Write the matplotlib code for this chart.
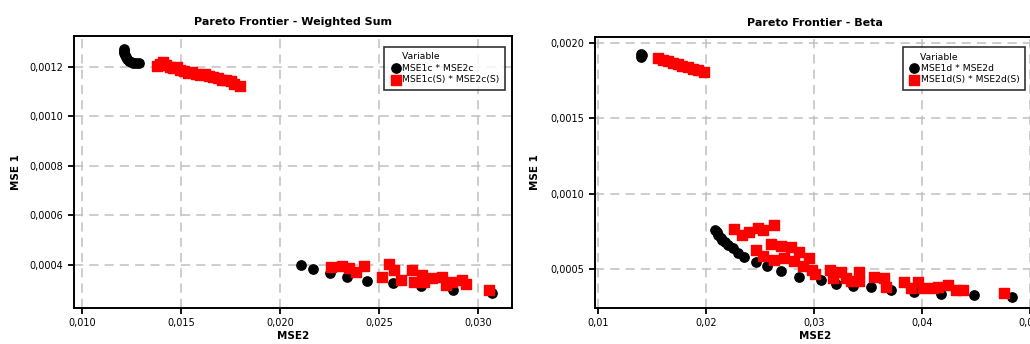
import matplotlib
matplotlib.use("Agg")
import matplotlib.pyplot as plt
from matplotlib.ticker import FuncFormatter, MultipleLocator

# Weighted sum data
ws_c_x = [0.01211, 0.01211, 0.01211, 0.01217, 0.01222, 0.01227, 0.01237, 0.01247, 0.01257, 0.01272, 0.01287,
          0.02108, 0.02168, 0.02254, 0.02339, 0.0244, 0.02571, 0.02712, 0.02873, 0.0307]
ws_c_y = [0.001273, 0.001265, 0.001257, 0.001248, 0.00124, 0.001232, 0.001224, 0.00122, 0.001216, 0.001216, 0.001216,
          0.0004, 0.000384, 0.000368, 0.000352, 0.000335, 0.000327, 0.000315, 0.000299, 0.000287]
ws_s_x = [0.01378, 0.01393, 0.01408, 0.01423, 0.01443, 0.01458, 0.01478, 0.01493, 0.01514, 0.01534, 0.01554,
          0.01574, 0.01594, 0.01619, 0.01639, 0.0166, 0.01685, 0.01705, 0.01725, 0.0175, 0.0177, 0.01796,
          0.02259, 0.02314, 0.02349, 0.02385, 0.02425, 0.02516, 0.02551, 0.02576, 0.02611, 0.02667,
          0.02677, 0.02717, 0.02727, 0.02767, 0.02818, 0.02838, 0.02868, 0.02918, 0.02939, 0.03054]
ws_s_y = [0.001204, 0.001212, 0.00122, 0.001208, 0.0012, 0.001196, 0.0012, 0.001188, 0.001184, 0.001176, 0.00118,
          0.001172, 0.001168, 0.001172, 0.001164, 0.00116, 0.001156, 0.001147, 0.001147, 0.001143, 0.001131, 0.001123,
          0.000392, 0.000396, 0.000388, 0.000372, 0.000396, 0.000352, 0.000404, 0.00038, 0.000339, 0.00038,
          0.000331, 0.000359, 0.000331, 0.000347, 0.000351, 0.000319, 0.000331, 0.000339, 0.000323, 0.000299]

# Beta data
b_d_x = [0.0140, 0.0141, 0.0140,
         0.02088, 0.02098, 0.02116, 0.02135, 0.02153, 0.02172, 0.022, 0.02247, 0.02293, 0.02349, 0.0246,
         0.02563, 0.02693, 0.0286, 0.03065, 0.03205, 0.03363, 0.0353, 0.03716, 0.0393, 0.04181, 0.04488, 0.04833]
b_d_y = [0.00193, 0.00192, 0.00191,
         0.000758, 0.000745, 0.000725, 0.000705, 0.000692, 0.000679, 0.000659, 0.000639, 0.000606, 0.000579, 0.000546,
         0.00052, 0.000486, 0.000446, 0.000426, 0.0004, 0.000386, 0.00038, 0.00036, 0.000347, 0.000333, 0.000327, 0.000313]
b_s_x = [0.01558, 0.01605, 0.0165, 0.01697, 0.01744, 0.0178, 0.01837, 0.01884, 0.0193, 0.01986,
         0.02256, 0.0233, 0.02395, 0.02479, 0.02526, 0.02628, 0.0246, 0.02526, 0.026, 0.02628, 0.02693, 0.02721,
         0.02786, 0.02814, 0.0286, 0.02898, 0.02953, 0.02981, 0.03009, 0.03149, 0.03177, 0.03251, 0.03298,
         0.03344, 0.03419, 0.03419, 0.03558, 0.03651, 0.0367, 0.03837, 0.03902, 0.03967, 0.04014, 0.04107,
         0.04153, 0.04247, 0.04321, 0.04386, 0.04758]
b_s_y = [0.0019, 0.00189, 0.00188, 0.00187, 0.00186, 0.00185, 0.00184, 0.00183, 0.00182, 0.00181,
         0.000765, 0.000725, 0.000745, 0.000772, 0.000758, 0.000791, 0.000625, 0.000586, 0.000665, 0.000559, 0.000652, 0.000572,
         0.000645, 0.000552, 0.000612, 0.000519, 0.000572, 0.000493, 0.000466, 0.000493, 0.00044, 0.00048, 0.00044,
         0.00042, 0.00048, 0.00042, 0.000446, 0.00044, 0.00038, 0.000413, 0.000373, 0.000413, 0.000373, 0.000373,
         0.00038, 0.000393, 0.00036, 0.00036, 0.00034]


def comma(dec):
    return FuncFormatter(lambda v, p: ("{:.%df}" % dec).format(v).replace(".", ","))


def style(ax, title, xdec, ydec, ylab_x, leg_anchor):
    ax.set_title(title, fontsize=8, fontweight="bold", pad=8)
    ax.set_xlabel("MSE2", fontsize=7.5, fontweight="bold", labelpad=2)
    ax.set_ylabel("MSE 1", fontsize=7.5, fontweight="bold")
    ax.yaxis.set_label_coords(ylab_x, 0.5)
    ax.xaxis.set_major_formatter(comma(xdec))
    ax.yaxis.set_major_formatter(comma(ydec))
    ax.tick_params(labelsize=7, direction="out", length=4, width=1.3, colors="black")
    ax.grid(True, color="#c0c0c0", linestyle=(0, (6, 4)), linewidth=1.1)
    ax.set_axisbelow(True)
    for s in ax.spines.values():
        s.set_linewidth(1.4)
    leg = ax.legend(loc="upper right", bbox_to_anchor=leg_anchor, title="    Variable",
                    fontsize=6.7, title_fontsize=6.7,
                    frameon=True, fancybox=False, edgecolor="black", borderpad=0.6,
                    handletextpad=0.1, handlelength=1.2, labelspacing=0.25, borderaxespad=0)
    leg.get_frame().set_linewidth(1.2)
    leg._legend_box.align = "left"


fig = plt.figure(figsize=(10.3, 3.44), dpi=100)
ax1 = fig.add_axes([0.0718, 0.1047, 0.4252, 0.7907])
ax2 = fig.add_axes([0.5777, 0.1047, 0.4272, 0.7878])

ax1.scatter(ws_c_x, ws_c_y, s=45, marker="o", color="black", label="MSE1c * MSE2c", zorder=3)
ax1.scatter(ws_s_x, ws_s_y, s=50, marker="s", color="#ff0000", label="MSE1c(S) * MSE2c(S)", zorder=3)
ax1.set_xlim(0.0096, 0.0317)
ax1.set_ylim(0.000226, 0.001325)
ax1.xaxis.set_major_locator(MultipleLocator(0.005))
ax1.yaxis.set_major_locator(MultipleLocator(0.0002))
style(ax1, "Pareto Frontier - Weighted Sum", 3, 4, -0.122, (0.984, 0.96))

ax2.scatter(b_d_x, b_d_y, s=45, marker="o", color="black", label="MSE1d * MSE2d", zorder=3)
ax2.scatter(b_s_x, b_s_y, s=50, marker="s", color="#ff0000", label="MSE1d(S) * MSE2d(S)", zorder=3)
ax2.set_xlim(0.00972, 0.0505)
ax2.set_ylim(0.00024, 0.00204)
ax2.xaxis.set_major_locator(MultipleLocator(0.01))
ax2.yaxis.set_major_locator(MultipleLocator(0.0005))
style(ax2, "Pareto Frontier - Beta", 2, 4, -0.124, (0.977, 0.963))

fig.savefig("out.png", dpi=100)
